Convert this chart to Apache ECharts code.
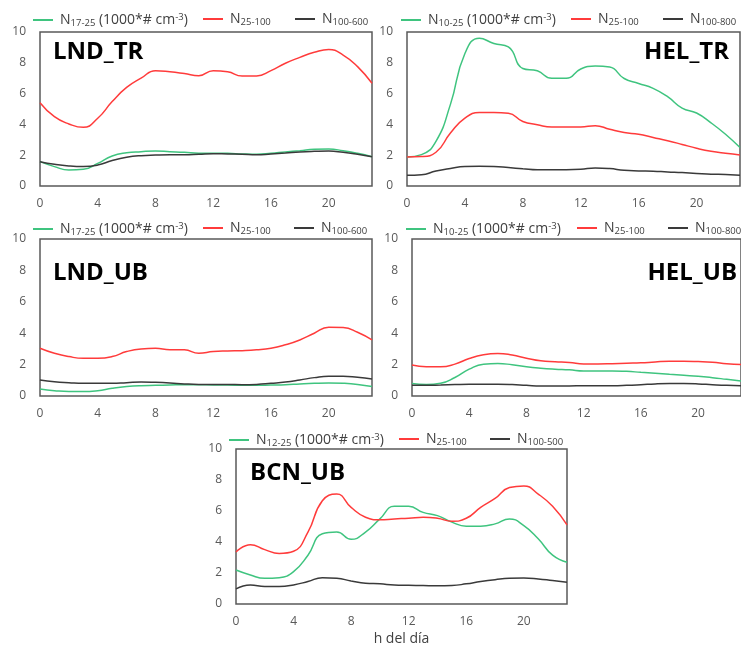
<!DOCTYPE html>
<html>
<head>
<meta charset="utf-8">
<script src="https://cdn.jsdelivr.net/npm/echarts@6/dist/echarts.min.js"></script>
<style>
  html, body { margin: 0; padding: 0; background: #fff; }
  #chart { width: 741px; height: 647px; }
</style>
</head>
<body>
<div id="chart"></div>
<script>
// horas del día
const hours = [0, 1, 2, 3, 4, 5, 6, 7, 8, 9, 10, 11, 12, 13, 14, 15, 16, 17, 18, 19, 20, 21, 22, 23]
const xTicks = [0, 4, 8, 12, 16, 20]
const yTicks = [0, 2, 4, 6, 8, 10]

const panelNames = ['LND_TR', 'HEL_TR', 'LND_UB', 'HEL_UB', 'BCN_UB']
// rango de tamaño de cada serie (subíndices de la leyenda)
const smallRanges = ['17-25', '10-25', '17-25', '10-25', '12-25']
const midRanges = ['25-100', '25-100', '25-100', '25-100', '25-100']
const bigRanges = ['100-600', '100-800', '100-600', '100-800', '100-500']

// LND_TR
const lndTrSmall = [1.58, 1.26, 1.04, 1.08, 1.47, 1.95, 2.16, 2.23, 2.27, 2.23, 2.19, 2.12, 2.12, 2.12, 2.08, 2.06, 2.12, 2.21, 2.29, 2.38, 2.40, 2.29, 2.12, 1.90]
const lndTrMid = [5.41, 4.50, 4.03, 3.81, 4.40, 5.48, 6.40, 7.00, 7.49, 7.42, 7.30, 7.16, 7.49, 7.42, 7.14, 7.14, 7.49, 7.97, 8.35, 8.68, 8.87, 8.50, 7.75, 6.67]
const lndTrBig = [1.58, 1.41, 1.30, 1.26, 1.36, 1.65, 1.86, 1.97, 2.01, 2.03, 2.03, 2.06, 2.10, 2.08, 2.06, 2.03, 2.08, 2.14, 2.21, 2.25, 2.27, 2.19, 2.06, 1.90]

// HEL_TR
const helTrSmall = [1.89, 2.04, 2.90, 5.30, 8.60, 9.60, 9.25, 9.03, 7.63, 7.48, 6.99, 6.99, 7.60, 7.79, 7.72, 6.98, 6.66, 6.34, 5.80, 5.06, 4.74, 4.10, 3.36, 2.50]
const helTrMid = [1.89, 1.91, 2.19, 3.44, 4.41, 4.77, 4.77, 4.73, 4.19, 3.98, 3.83, 3.83, 3.83, 3.92, 3.68, 3.47, 3.36, 3.15, 2.94, 2.70, 2.45, 2.25, 2.12, 2.02]
const helTrBig = [0.69, 0.73, 0.97, 1.14, 1.27, 1.29, 1.27, 1.20, 1.12, 1.05, 1.05, 1.05, 1.08, 1.17, 1.13, 1.02, 0.98, 0.96, 0.91, 0.87, 0.81, 0.77, 0.74, 0.70]

// LND_UB
const lndUbSmall = [0.45, 0.34, 0.28, 0.28, 0.34, 0.49, 0.60, 0.66, 0.68, 0.70, 0.72, 0.72, 0.70, 0.70, 0.68, 0.68, 0.70, 0.72, 0.77, 0.81, 0.83, 0.81, 0.74, 0.60]
const lndUbMid = [3.04, 2.72, 2.51, 2.40, 2.40, 2.51, 2.83, 3.00, 3.04, 2.94, 2.94, 2.72, 2.83, 2.87, 2.89, 2.94, 3.04, 3.26, 3.57, 4.00, 4.38, 4.36, 4.06, 3.57]
const lndUbBig = [1.02, 0.91, 0.85, 0.81, 0.81, 0.81, 0.85, 0.89, 0.87, 0.83, 0.77, 0.74, 0.74, 0.74, 0.72, 0.74, 0.81, 0.89, 1.02, 1.17, 1.26, 1.26, 1.19, 1.09]

// HEL_UB
const helUbSmall = [0.79, 0.73, 0.81, 1.18, 1.71, 2.03, 2.07, 1.99, 1.86, 1.77, 1.71, 1.67, 1.60, 1.60, 1.60, 1.57, 1.51, 1.45, 1.38, 1.32, 1.26, 1.17, 1.06, 0.95]
const helUbMid = [1.97, 1.86, 1.86, 2.03, 2.39, 2.63, 2.71, 2.61, 2.41, 2.24, 2.18, 2.14, 2.04, 2.04, 2.06, 2.09, 2.11, 2.17, 2.21, 2.21, 2.19, 2.15, 2.06, 2.00]
const helUbBig = [0.68, 0.68, 0.70, 0.73, 0.75, 0.75, 0.75, 0.73, 0.68, 0.64, 0.64, 0.64, 0.66, 0.66, 0.66, 0.68, 0.72, 0.77, 0.79, 0.79, 0.77, 0.72, 0.68, 0.66]

// BCN_UB
const bcnUbSmall = [2.19, 1.87, 1.66, 1.70, 2.09, 3.15, 4.53, 4.64, 4.17, 4.64, 5.49, 6.30, 6.30, 5.91, 5.70, 5.28, 5.02, 5.02, 5.17, 5.49, 5.06, 4.21, 3.15, 2.70]
const bcnUbMid = [3.36, 3.83, 3.51, 3.26, 3.40, 4.64, 6.66, 7.09, 6.23, 5.60, 5.43, 5.49, 5.53, 5.60, 5.53, 5.34, 5.53, 6.23, 6.81, 7.51, 7.62, 7.09, 6.30, 5.10]
const bcnUbBig = [0.98, 1.23, 1.13, 1.13, 1.23, 1.45, 1.70, 1.66, 1.49, 1.34, 1.30, 1.23, 1.21, 1.19, 1.17, 1.19, 1.30, 1.45, 1.57, 1.66, 1.68, 1.62, 1.51, 1.40]

const panelData = [
  [lndTrSmall, lndTrMid, lndTrBig],
  [helTrSmall, helTrMid, helTrBig],
  [lndUbSmall, lndUbMid, lndUbBig],
  [helUbSmall, helUbMid, helUbBig],
  [bcnUbSmall, bcnUbMid, bcnUbBig]
]

const colors = ['#3fc47f', '#ff3b3b', '#3a3a3a']
const font = '"Open Sans", sans-serif'
const textGray = '#404040'

// posiciones en píxeles de cada panel
const grids = [
  { left: 40, top: 32, width: 332, height: 154 },
  { left: 407, top: 32, width: 333, height: 154 },
  { left: 40, top: 239, width: 332, height: 157 },
  { left: 412, top: 239, width: 336, height: 157 },
  { left: 236, top: 449, width: 331, height: 156 }
]
// x de cada icono de leyenda (la leyenda tiene 5px de padding)
const legendLefts = [
  [28, 198, 290],
  [396, 566, 658],
  [28, 198, 289],
  [401, 572, 663],
  [224, 394, 485]
]
const legendTops = [7, 7, 216, 216, 427]
// etiquetas de los paneles
const titlePos = [
  { x: 53, y: 52, align: 'left' },
  { x: 729, y: 52, align: 'right' },
  { x: 53, y: 273, align: 'left' },
  { x: 737, y: 273, align: 'right' },
  { x: 250, y: 473, align: 'left' }
]

const rich = {
  n: { fontSize: 14, color: textGray, fontFamily: font, lineHeight: 16 },
  s: { fontSize: 9.5, color: textGray, fontFamily: font, verticalAlign: 'bottom', lineHeight: 16 },
  p: { fontSize: 9.5, color: textGray, fontFamily: font, verticalAlign: 'top', lineHeight: 16 }
}

function seriesName(p, k) {
  const ranges = [smallRanges, midRanges, bigRanges]
  return 'N' + ranges[k][p] + (k === 0 ? ' (1000*# cm-3)' : '')
}

function legendLabel(name) {
  const m = name.match(/^N(\S+)( \(1000\*# cm-3\))?$/)
  if (m[2]) {
    return '{n|N}{s|' + m[1] + '}{n| (1000*# cm}{p|-3}{n|)}'
  }
  return '{n|N}{s|' + m[1] + '}'
}

const option = {
  backgroundColor: '#fff',
  animation: false,
  grid: [],
  xAxis: [],
  yAxis: [],
  legend: [],
  series: [],
  graphic: []
}

grids.forEach((g, p) => {
  option.grid.push(Object.assign({
    show: true,
    borderColor: '#595959',
    borderWidth: 1.5,
    backgroundColor: 'transparent'
  }, g))
  option.xAxis.push({
    type: 'value',
    gridIndex: p,
    min: hours[0],
    max: hours[hours.length - 1],
    interval: xTicks[1] - xTicks[0],
    axisLine: { show: false },
    axisTick: { show: false },
    splitLine: { show: false },
    axisLabel: {
      margin: 12,
      fontSize: 12,
      color: '#595959',
      fontFamily: font,
      formatter: v => (xTicks.includes(v) ? String(v) : ''),
      showMaxLabel: false
    },
    name: p === 4 ? 'h del día' : '',
    nameLocation: 'middle',
    nameGap: 28,
    nameTextStyle: { fontSize: 14, color: textGray, fontFamily: font }
  })
  option.yAxis.push({
    type: 'value',
    gridIndex: p,
    min: yTicks[0],
    max: yTicks[yTicks.length - 1],
    interval: yTicks[1] - yTicks[0],
    axisLine: { show: false },
    axisTick: { show: false },
    splitLine: { show: false },
    axisLabel: { margin: 14, fontSize: 12, color: '#595959', fontFamily: font }
  })
  panelData[p].forEach((vals, k) => {
    const name = seriesName(p, k)
    option.series.push({
      type: 'line',
      name: name,
      xAxisIndex: p,
      yAxisIndex: p,
      smooth: 0.5,
      symbol: 'none',
      lineStyle: { color: colors[k], width: 1.5 },
      itemStyle: { color: colors[k] },
      data: hours.map((h, i) => [h, vals[i]])
    })
    option.legend.push({
      data: [name],
      left: legendLefts[p][k],
      top: legendTops[p],
      icon: 'rect',
      itemWidth: 20,
      itemHeight: 2,
      itemGap: 0,
      selectedMode: false,
      formatter: legendLabel,
      textStyle: { rich: rich, padding: [0, 0, 0, 2] }
    })
  })
  option.graphic.push({
    type: 'text',
    x: titlePos[p].x,
    y: titlePos[p].y,
    style: {
      text: panelNames[p],
      fill: '#000',
      font: 'bold 24px ' + font,
      align: titlePos[p].align,
      verticalAlign: 'middle'
    }
  })
})

const chart = echarts.init(document.getElementById('chart'))
chart.setOption(option)
</script>
</body>
</html>
